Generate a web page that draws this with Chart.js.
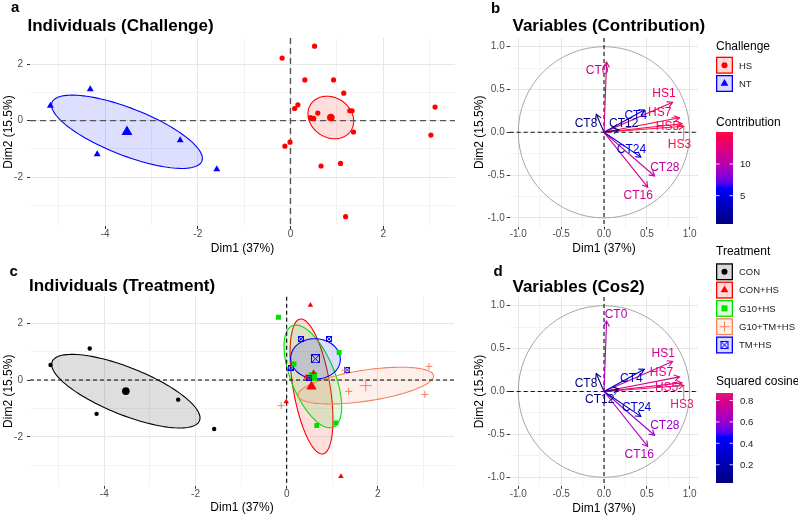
<!DOCTYPE html>
<html>
<head>
<meta charset="utf-8">
<script src="https://cdn.jsdelivr.net/npm/chart.js@4/dist/chart.umd.min.js"></script>
<style>
  body { margin: 0; background: #fff; font-family: "Liberation Sans", Arial, Helvetica, sans-serif; }
  #wrap { position: relative; width: 798px; height: 516px; overflow: hidden; background: #fff; }
  canvas.panel { position: absolute; }
  .lbl { position: absolute; white-space: nowrap; line-height: 1; color: #000; }
</style>
</head>
<body>
<div id="wrap">
  <canvas id="cA" class="panel" width="470" height="256" style="left:0;top:0;width:470px;height:256px"></canvas>
  <canvas id="cB" class="panel" width="235" height="256" style="left:470px;top:0;width:235px;height:256px"></canvas>
  <canvas id="cC" class="panel" width="470" height="260" style="left:0;top:256px;width:470px;height:260px"></canvas>
  <canvas id="cD" class="panel" width="235" height="260" style="left:470px;top:256px;width:235px;height:260px"></canvas>
  <canvas id="cL" class="panel" width="93" height="516" style="left:705px;top:0;width:93px;height:516px"></canvas>
</div>
<script>
const FONT = '"Liberation Sans", Arial, Helvetica, sans-serif';
Chart.defaults.font.family = FONT;

// ---- data ----
const dimPct = [37, 15.5];

// individual coordinates on Dim1 / Dim2, one pair of arrays per treatment
const conX   = [-5.18, -4.32, -4.17, -2.38, -1.59];
const conY   = [0.53, 1.11, -1.19, -0.69, -1.72];
const conHsX = [0.52, 0.59, 0.43, -0.01, 1.19];
const conHsY = [2.63, 0.27, 0.11, -0.76, -3.39];
const g10X   = [-0.18, 1.15, 0.16, 0.66, 1.08];
const g10Y   = [2.21, 0.97, 0.56, -1.60, -1.51];
const g10tmX = [1.28, 1.36, 3.12, 3.03, -0.12];
const g10tmY = [0.35, -0.40, 0.48, -0.51, -0.90];
const tmX    = [0.31, 0.93, 0.09, 0.50, 1.33];
const tmY    = [1.44, 1.44, 0.43, 0.08, 0.35];

const treatNames = ['CON', 'CON+HS', 'G10+HS', 'G10+TM+HS', 'TM+HS'];
const treatX = [conX, conHsX, g10X, g10tmX, tmX];
const treatY = [conY, conHsY, g10Y, g10tmY, tmY];

// challenge groups: HS = all heat-stressed treatments, NT = CON
const challengeNames = ['HS', 'NT'];
const hsX = conHsX.concat(g10X, g10tmX, tmX);
const hsY = conHsY.concat(g10Y, g10tmY, tmY);

// variable coordinates (correlation circle)
const varNames = ['CT0', 'CT4', 'CT8', 'CT12', 'CT16', 'CT24', 'CT28', 'HS1', 'HS3', 'HS5', 'HS7'];
const varDim1  = [0.03, 0.47, -0.09, 0.17, 0.51, 0.43, 0.59, 0.80, 0.93, 0.91, 0.88];
const varDim2  = [0.82, 0.26, 0.21, 0.03, -0.64, -0.29, -0.51, 0.35, 0.07, 0.10, 0.17];

const indXTicks = [-4, -2, 0, 2];
const indYTicks = [-2, 0, 2];
const varTicks = [-1, -0.5, 0, 0.5, 1];
const contribTicks = [5, 10];
const cos2Ticks = [0.2, 0.4, 0.6, 0.8];

// ---- styles / layout ----
const challCol = ['#FF0000', '#0000FF'];
const treatCol = ['#000000', '#FF0000', '#00E000', '#F4845C', '#0000FF'];
const contribStops = [[0, '#000080'], [0.4, '#0000FF'], [1, '#FF0F40']];
const cos2Stops = [[0, '#000080'], [0.52, '#0000FF'], [1, '#E8146E']];

// where the variable labels sit (data units), panel b and d
const labPosB = [[-0.08, 0.72], [0.37, 0.19], [-0.21, 0.10], [0.23, 0.10], [0.40, -0.74], [0.32, -0.20],
                 [0.71, -0.41], [0.70, 0.45], [0.88, -0.15], [0.74, 0.07], [0.65, 0.23]];
const labPosD = [[0.14, 0.90], [0.32, 0.15], [-0.21, 0.09], [-0.05, -0.10], [0.41, -0.74], [0.38, -0.19],
                 [0.71, -0.40], [0.69, 0.445], [0.91, -0.15], [0.73, 0.05], [0.67, 0.22]];

// helpers
const avg = a => a.reduce((s, v) => s + v, 0) / a.length;
function rgba(hex, a) {
  const n = parseInt(hex.slice(1), 16);
  return `rgba(${n >> 16},${(n >> 8) & 255},${n & 255},${a})`;
}
function range(a, b, step) { const out = []; for (let v = a; v <= b + 1e-9; v += step) out.push(Math.round(v * 100) / 100); return out; }

// colour interpolation in Lab space (like ggplot)
function lin(c) { c /= 255; return c <= 0.04045 ? c / 12.92 : Math.pow((c + 0.055) / 1.055, 2.4); }
function unlin(c) { c = c <= 0.0031308 ? 12.92 * c : 1.055 * Math.pow(c, 1 / 2.4) - 0.055; return Math.round(Math.max(0, Math.min(1, c)) * 255); }
function hexToLab(hex) {
  const n = parseInt(hex.slice(1), 16);
  const R = lin(n >> 16), G = lin((n >> 8) & 255), B = lin(n & 255);
  const X = (0.4124 * R + 0.3576 * G + 0.1805 * B) / 0.95047;
  const Y = 0.2126 * R + 0.7152 * G + 0.0722 * B;
  const Z = (0.0193 * R + 0.1192 * G + 0.9505 * B) / 1.08883;
  const f = t => t > 0.008856 ? Math.cbrt(t) : 7.787 * t + 16 / 116;
  return [116 * f(Y) - 16, 500 * (f(X) - f(Y)), 200 * (f(Y) - f(Z))];
}
function labToCss([L, a, b]) {
  const fy = (L + 16) / 116, fx = fy + a / 500, fz = fy - b / 200;
  const inv = t => t * t * t > 0.008856 ? t * t * t : (t - 16 / 116) / 7.787;
  const X = inv(fx) * 0.95047, Y = inv(fy), Z = inv(fz) * 1.08883;
  const R = 3.2406 * X - 1.5372 * Y - 0.4986 * Z;
  const G = -0.9689 * X + 1.8758 * Y + 0.0415 * Z;
  const B = 0.0557 * X - 0.2040 * Y + 1.0570 * Z;
  return `rgb(${unlin(R)},${unlin(G)},${unlin(B)})`;
}
function gradColor(stops, f) {
  f = Math.max(0, Math.min(1, f));
  let i = 0;
  while (i < stops.length - 2 && f > stops[i + 1][0]) i++;
  const [p0, c0] = stops[i], [p1, c1] = stops[i + 1];
  const t = (f - p0) / (p1 - p0), a = hexToLab(c0), b = hexToLab(c1);
  return labToCss(a.map((v, k) => v + (b[k] - v) * t));
}

// 95% confidence ellipse of the group mean (ggpubr stat_conf_ellipse)
function confEllipse(xs, ys) {
  const n = xs.length, mx = avg(xs), my = avg(ys);
  let sxx = 0, syy = 0, sxy = 0;
  xs.forEach((x, i) => { const dx = x - mx, dy = ys[i] - my; sxx += dx * dx; syy += dy * dy; sxy += dx * dy; });
  const k = (n - 1) * n;
  sxx /= k; syy /= k; sxy /= k;
  const tr = sxx + syy, det = sxx * syy - sxy * sxy;
  const disc = Math.sqrt(Math.max(tr * tr / 4 - det, 0));
  const l1 = tr / 2 + disc, l2 = Math.max(tr / 2 - disc, 0);
  const th = 0.5 * Math.atan2(2 * sxy, sxx - syy);
  const t = Math.sqrt(5.991);
  const out = [];
  for (let j = 0; j <= 120; j++) {
    const a = 2 * Math.PI * j / 120;
    const u = t * Math.sqrt(l1) * Math.cos(a), v = t * Math.sqrt(l2) * Math.sin(a);
    out.push([mx + u * Math.cos(th) - v * Math.sin(th), my + u * Math.sin(th) + v * Math.cos(th)]);
  }
  return out;
}

function boxX(size, color) {
  const c = document.createElement('canvas');
  c.width = c.height = size;
  const g = c.getContext('2d');
  g.strokeStyle = color; g.lineWidth = 1;
  g.strokeRect(0.5, 0.5, size - 1, size - 1);
  g.beginPath();
  g.moveTo(0.5, 0.5); g.lineTo(size - 0.5, size - 0.5);
  g.moveTo(size - 0.5, 0.5); g.lineTo(0.5, size - 0.5);
  g.stroke();
  return c;
}

function pointSet(xs, ys, style, r, color) {
  return {
    data: xs.map((x, i) => ({ x, y: ys[i] })),
    pointStyle: style, pointRadius: r, pointHoverRadius: r,
    backgroundColor: color, borderColor: color,
    borderWidth: style === 'cross' ? 1 : 0
  };
}

function ellipsePlugin(groups) {
  return {
    id: 'ellipses',
    beforeDatasetsDraw(chart) {
      const { ctx, scales: { x, y } } = chart;
      groups.forEach(g => {
        const pts = confEllipse(g.xs, g.ys);
        ctx.save();
        ctx.beginPath();
        pts.forEach((p, j) => {
          const X = x.getPixelForValue(p[0]), Y = y.getPixelForValue(p[1]);
          if (j) ctx.lineTo(X, Y); else ctx.moveTo(X, Y);
        });
        ctx.closePath();
        ctx.fillStyle = rgba(g.color, 0.13);
        ctx.fill();
        ctx.strokeStyle = g.color;
        ctx.lineWidth = 1.1;
        ctx.stroke();
        ctx.restore();
      });
    }
  };
}

function zeroPlugin(color, width, dash) {
  return {
    id: 'zeroLines',
    beforeDatasetsDraw(chart) {
      const { ctx, chartArea: a, scales: { x, y } } = chart;
      const X = x.getPixelForValue(0), Y = y.getPixelForValue(0);
      ctx.save();
      ctx.strokeStyle = color; ctx.lineWidth = width; ctx.setLineDash(dash);
      ctx.beginPath();
      ctx.moveTo(a.left, Y); ctx.lineTo(a.right, Y);
      ctx.moveTo(X, a.top); ctx.lineTo(X, a.bottom);
      ctx.stroke();
      ctx.restore();
    }
  };
}

const circlePlugin = {
  id: 'unitCircle',
  beforeDatasetsDraw(chart) {
    const { ctx, scales: { x, y } } = chart;
    const cx = x.getPixelForValue(0), cy = y.getPixelForValue(0);
    ctx.save();
    ctx.strokeStyle = '#A6A6A6'; ctx.lineWidth = 1;
    ctx.beginPath();
    ctx.ellipse(cx, cy, x.getPixelForValue(1) - cx, cy - y.getPixelForValue(1), 0, 0, 2 * Math.PI);
    ctx.stroke();
    ctx.restore();
  }
};

function arrowPlugin(colors, labPos) {
  return {
    id: 'arrows',
    afterDatasetsDraw(chart) {
      const { ctx, scales: { x, y } } = chart;
      ctx.save();
      varNames.forEach((name, i) => {
        const meta = chart.getDatasetMeta(i);
        const p0 = meta.data[0], p1 = meta.data[1];
        const ang = Math.atan2(p1.y - p0.y, p1.x - p0.x), L = 6;
        ctx.strokeStyle = colors[i]; ctx.lineWidth = 1.1;
        ctx.beginPath();
        ctx.moveTo(p1.x - L * Math.cos(ang - Math.PI / 6), p1.y - L * Math.sin(ang - Math.PI / 6));
        ctx.lineTo(p1.x, p1.y);
        ctx.lineTo(p1.x - L * Math.cos(ang + Math.PI / 6), p1.y - L * Math.sin(ang + Math.PI / 6));
        ctx.stroke();
      });
      ctx.font = '12px ' + FONT;
      ctx.textAlign = 'center'; ctx.textBaseline = 'middle';
      varNames.forEach((name, i) => {
        const lx = x.getPixelForValue(labPos[i][0]), ly = y.getPixelForValue(labPos[i][1]);
        const w = ctx.measureText(name).width;
        const tx = x.getPixelForValue(varDim1[i]), ty = y.getPixelForValue(varDim2[i]);
        const nx = Math.max(lx - w / 2, Math.min(tx, lx + w / 2));
        const ny = Math.max(ly - 5, Math.min(ty, ly + 5));
        if (Math.hypot(tx - nx, ty - ny) > 7) {
          ctx.strokeStyle = colors[i]; ctx.lineWidth = 0.7;
          ctx.beginPath(); ctx.moveTo(tx, ty); ctx.lineTo(nx, ny); ctx.stroke();
        }
        ctx.fillStyle = colors[i];
        ctx.fillText(name, lx, ly);
      });
      ctx.restore();
    }
  };
}

function scaleOpts(axis, min, max, grid, labels, fmt, fit, tickPad, title, titlePad) {
  const isX = axis === 'x';
  const major = c => c.tick && labels.includes(c.tick.value);
  return {
    type: 'linear', position: isX ? 'bottom' : 'left', min, max,
    afterBuildTicks: s => { s.ticks = grid.map(v => ({ value: v })); },
    afterFit: s => { if (isX) s.height = fit; else s.width = fit; },
    border: { display: false },
    grid: {
      color: c => major(c) ? '#E6E6E6' : '#F3F3F3',
      lineWidth: 1, tickLength: 3, tickWidth: 1,
      tickColor: c => major(c) ? '#333333' : 'rgba(0,0,0,0)'
    },
    ticks: {
      autoSkip: false, maxRotation: 0, padding: tickPad, color: '#4D4D4D',
      font: { size: 10, lineHeight: 1 },
      callback: v => labels.includes(v) ? fmt(v) : ''
    },
    title: { display: true, text: title, color: '#000', font: { size: 12, lineHeight: 1.2 }, padding: titlePad }
  };
}

function options(area, W, H, xLim, yLim, xGrid, yGrid, xLab, yLab, fmt, pads) {
  return {
    responsive: false, animation: false, events: [],
    layout: { padding: { left: 0, top: area.top, right: W - area.right, bottom: 0 } },
    plugins: { legend: { display: false }, tooltip: { enabled: false } },
    scales: {
      x: scaleOpts('x', xLim[0], xLim[1], xGrid, xLab, fmt, H - area.bottom, pads.xt,
                   `Dim1 (${dimPct[0]}%)`, { top: 0, bottom: pads.xTitle }),
      y: scaleOpts('y', yLim[0], yLim[1], yGrid, yLab, fmt, area.left, pads.yt,
                   `Dim2 (${dimPct[1]}%)`, { top: pads.yTitle, bottom: 0 })
    }
  };
}

const fmtInt = v => String(v);
const fmtOne = v => v.toFixed(1);

// ---- panel a : individuals by challenge ----
new Chart(document.getElementById('cA'), {
  type: 'scatter',
  data: { datasets: [
    pointSet(hsX, hsY, 'circle', 2.6, challCol[0]),
    pointSet(conX, conY, 'triangle', 4, challCol[1]),
    pointSet([avg(hsX)], [avg(hsY)], 'circle', 3.8, challCol[0]),
    pointSet([avg(conX)], [avg(conY)], 'triangle', 6.3, challCol[1])
  ] },
  options: options({ left: 30, right: 455, top: 38, bottom: 226 }, 470, 256,
                   [-5.62, 3.55], [-3.72, 2.92], range(-5, 3, 1), range(-3, 2, 1),
                   indXTicks, indYTicks, fmtInt, { xt: 0, yt: 4, xTitle: 0.5, yTitle: 1 }),
  plugins: [ellipsePlugin([{ xs: hsX, ys: hsY, color: challCol[0] }, { xs: conX, ys: conY, color: challCol[1] }]),
            zeroPlugin('#555555', 1.4, [6, 4])]
});

// ---- panel c : individuals by treatment ----
const treatStyle = ['circle', 'triangle', 'rect', 'cross', boxX(6, treatCol[4])];
const treatMeanStyle = ['circle', 'triangle', 'rect', 'cross', boxX(9, treatCol[4])];
const treatR = [2.2, 3.2, 3.5, 3.5, 3];
const treatMeanR = [3.8, 6, 6, 6, 4];
new Chart(document.getElementById('cC'), {
  type: 'scatter',
  data: { datasets:
    treatNames.map((n, i) => pointSet(treatX[i], treatY[i], treatStyle[i], treatR[i], treatCol[i])).concat(
    treatNames.map((n, i) => pointSet([avg(treatX[i])], [avg(treatY[i])], treatMeanStyle[i], treatMeanR[i], treatCol[i])))
  },
  options: options({ left: 30, right: 454, top: 40.7, bottom: 229.8 }, 470, 260,
                   [-5.63, 3.67], [-3.72, 2.93], range(-5, 3, 1), range(-3, 2, 1),
                   indXTicks, indYTicks, fmtInt, { xt: 0, yt: 4, xTitle: 1.5, yTitle: 1.5 }),
  plugins: [ellipsePlugin(treatNames.map((n, i) => ({ xs: treatX[i], ys: treatY[i], color: treatCol[i] }))),
            zeroPlugin('#000000', 1.1, [4, 3])]
});

// ---- panels b and d : variables ----
const cos2 = varDim1.map((x, i) => x * x + varDim2[i] * varDim2[i]);
const contrib = cos2.map(c => 100 * c / ((dimPct[0] + dimPct[1]) / 100 * varNames.length));
function colorsFor(vals, stops) {
  const lo = Math.min(...vals), hi = Math.max(...vals);
  return vals.map(v => gradColor(stops, (v - lo) / (hi - lo)));
}
const colB = colorsFor(contrib, contribStops);
const colD = colorsFor(cos2, cos2Stops);

function arrowSets(colors) {
  return varNames.map((n, i) => ({
    data: [{ x: 0, y: 0 }, { x: varDim1[i], y: varDim2[i] }],
    showLine: true, borderColor: colors[i], borderWidth: 1.1,
    pointRadius: 0, pointHoverRadius: 0
  }));
}
const varGrid = range(-1, 1, 0.25);

new Chart(document.getElementById('cB'), {
  type: 'scatter',
  data: { datasets: arrowSets(colB) },
  options: options({ left: 39.7, right: 228.3, top: 38.1, bottom: 226.5 }, 235, 256,
                   [-1.1, 1.1], [-1.1, 1.1], varGrid, varGrid, varTicks, varTicks, fmtOne,
                   { xt: 0, yt: 2, xTitle: 0.5, yTitle: 2.8 }),
  plugins: [circlePlugin, zeroPlugin('#111111', 1.1, [4, 3]), arrowPlugin(colB, labPosB)]
});

new Chart(document.getElementById('cD'), {
  type: 'scatter',
  data: { datasets: arrowSets(colD) },
  options: options({ left: 39.7, right: 228.3, top: 41.1, bottom: 229.9 }, 235, 260,
                   [-1.1, 1.1], [-1.1, 1.1], varGrid, varGrid, varTicks, varTicks, fmtOne,
                   { xt: 0, yt: 2, xTitle: 0, yTitle: 2.8 }),
  plugins: [circlePlugin, zeroPlugin('#111111', 1.1, [4, 3]), arrowPlugin(colD, labPosD)]
});

// ---- titles & legends ----
const wrap = document.getElementById('wrap');
function addText(str, x, base, size, bold, color) {
  const d = document.createElement('div');
  d.className = 'lbl';
  d.textContent = str;
  d.style.left = x + 'px';
  d.style.top = (base - 0.8465 * size) + 'px';
  d.style.fontSize = size + 'px';
  if (bold) d.style.fontWeight = 'bold';
  if (color) d.style.color = color;
  wrap.appendChild(d);
}
addText('a', 11, 12, 15, true);
addText('Individuals (Challenge)', 27.5, 31.7, 17, true);
addText('b', 491, 12.8, 15, true);
addText('Variables (Contribution)', 512.5, 31.7, 17, true);
addText('c', 9.5, 275.7, 15, true);
addText('Individuals (Treatment)', 29, 291.7, 17, true);
addText('d', 493.5, 275.7, 15, true);
addText('Variables (Cos2)', 512.5, 292, 17, true);

const lg = document.getElementById('cL').getContext('2d');
const OX = 705;
function drawSym(g, shape, x, y, s, color) {
  g.save();
  g.fillStyle = color; g.strokeStyle = color; g.lineWidth = 1;
  g.beginPath();
  if (shape === 'circle') { g.arc(x, y, s, 0, 2 * Math.PI); g.fill(); }
  else if (shape === 'triangle') {
    g.moveTo(x, y - s); g.lineTo(x + s * 0.866, y + s / 2); g.lineTo(x - s * 0.866, y + s / 2);
    g.closePath(); g.fill();
  } else if (shape === 'rect') { g.fillRect(x - s, y - s, 2 * s, 2 * s); }
  else if (shape === 'cross') {
    g.moveTo(x - s, y); g.lineTo(x + s, y); g.moveTo(x, y - s); g.lineTo(x, y + s); g.stroke();
  } else {
    g.strokeRect(x - s, y - s, 2 * s, 2 * s);
    g.moveTo(x - s, y - s); g.lineTo(x + s, y + s); g.moveTo(x + s, y - s); g.lineTo(x - s, y + s); g.stroke();
  }
  g.restore();
}
function drawKey(x, y, color, shape, s) {
  lg.fillStyle = rgba(color, 0.14);
  lg.fillRect(x - OX, y, 17, 17);
  lg.strokeStyle = color; lg.lineWidth = 1.3;
  lg.strokeRect(x - OX + 0.65, y + 0.65, 15.7, 15.7);
  drawSym(lg, shape, x - OX + 8.5, y + 8.5, s, color);
}
function drawBar(x, top, w, h, stops, lo, hi, ticks, fmt) {
  for (let i = 0; i < h; i++) {
    lg.fillStyle = gradColor(stops, 1 - (i + 0.5) / h);
    lg.fillRect(x - OX, top + i, w, 1);
  }
  lg.strokeStyle = 'rgba(255,255,255,0.8)'; lg.lineWidth = 1;
  ticks.forEach(t => {
    const ty = top + (1 - (t - lo) / (hi - lo)) * h;
    lg.beginPath();
    lg.moveTo(x - OX, ty); lg.lineTo(x - OX + 3.5, ty);
    lg.moveTo(x - OX + w - 3.5, ty); lg.lineTo(x - OX + w, ty);
    lg.stroke();
    addText(fmt(t), 740, ty + 3.5, 9.6, false, '#1A1A1A');
  });
}

addText('Challenge', 716, 50, 12);
const challShape = ['circle', 'triangle'];
const challKeySize = [3, 4.5];
challengeNames.forEach((n, i) => {
  const top = 56.7 + i * 18.3;
  drawKey(716, top, challCol[i], challShape[i], challKeySize[i]);
  addText(n, 739, top + 8.5 + 3.4, 9.5, false, '#1A1A1A');
});

addText('Contribution', 716, 126, 12);
drawBar(716, 132, 17, 92, contribStops, Math.min(...contrib), Math.max(...contrib), contribTicks, fmtInt);

addText('Treatment', 716, 255.5, 12);
const treatKeyShape = ['circle', 'triangle', 'rect', 'cross', 'boxX'];
const treatKeySize = [3, 4.5, 3, 5, 3.5];
treatNames.forEach((n, i) => {
  const top = 263.3 + i * 18.3;
  drawKey(716, top, treatCol[i], treatKeyShape[i], treatKeySize[i]);
  addText(n, 739, top + 8.5 + 3.4, 9.5, false, '#1A1A1A');
});

addText('Squared cosine', 716, 385, 12);
drawBar(716, 393, 17, 90, cos2Stops, Math.min(...cos2), Math.max(...cos2), cos2Ticks, fmtOne);
</script>
</body>
</html>
